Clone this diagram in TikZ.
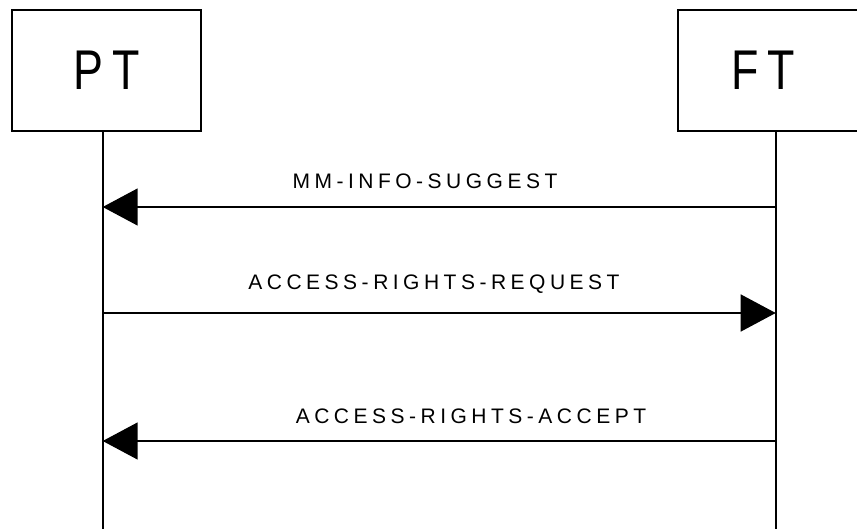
\documentclass[tikz,border=0pt]{standalone}
\usepackage{fontspec}
\setmainfont{Liberation Sans}
\usetikzlibrary{arrows.meta}
\makeatletter
\newcommand\trk[2]{\def\trk@k{#1}\@tfor\trk@c:=#2\do{\trk@c\kern\trk@k}\unkern}
\makeatother
\tikzset{
  entity/.style={draw, line width=1.6pt, inner sep=0pt},
  bigtxt/.style={font=\fontsize{56}{60}\selectfont, inner sep=0pt, xscale=0.8},
  life/.style={line width=1.6pt},
  msg/.style={line width=1.5pt, -{Triangle[length=35pt,width=37pt]}},
  lbl/.style={font=\fontsize{21}{24}\selectfont, inner sep=0pt, anchor=base}
}
\begin{document}
\begin{tikzpicture}[x=1pt,y=-1pt]
\useasboundingbox (0,0) rectangle (857,529);
\clip (0,0) rectangle (857,529);
% boxes
\node[entity, minimum width=189pt, minimum height=121pt] (ptbox) at (106.5,70.5) {};
\node[entity, minimum width=200pt, minimum height=121pt, anchor=west] (ftbox) at (677,70.5) {};
\node[bigtxt] (pttxt) at (107,70) {\trk{11pt}{PT}};
\node[bigtxt] (fttxt) at (763,70) {\trk{11pt}{FT}};
% lifelines
\coordinate (pttop) at (102.7,131);
\coordinate (ptbot) at (102.7,535);
\coordinate (fttop) at (775.7,131);
\coordinate (ftbot) at (775.7,535);
\draw[life] (pttop) -- (ptbot);
\draw[life] (fttop) -- (ftbot);
% message points
\coordinate (ft1) at (775.7,207);
\coordinate (pt1) at (102.7,207);
\coordinate (pt2) at (102.7,313);
\coordinate (ft2) at (775.7,313);
\coordinate (ft3) at (775.7,441);
\coordinate (pt3) at (102.7,441);
\draw[msg] (ft1) -- (pt1);
\draw[msg] (pt2) -- (ft2);
\draw[msg] (ft3) -- (pt3);
% labels
\node[lbl] (l1) at (425,189) {\trk{4.5pt}{MM-INFO-SUGGEST}};
\node[lbl] (l2) at (434,290) {\trk{4.5pt}{ACCESS-RIGHTS-REQUEST}};
\node[lbl] (l3) at (471,423) {\trk{4.5pt}{ACCESS-RIGHTS-ACCEPT}};
\end{tikzpicture}
\end{document}
